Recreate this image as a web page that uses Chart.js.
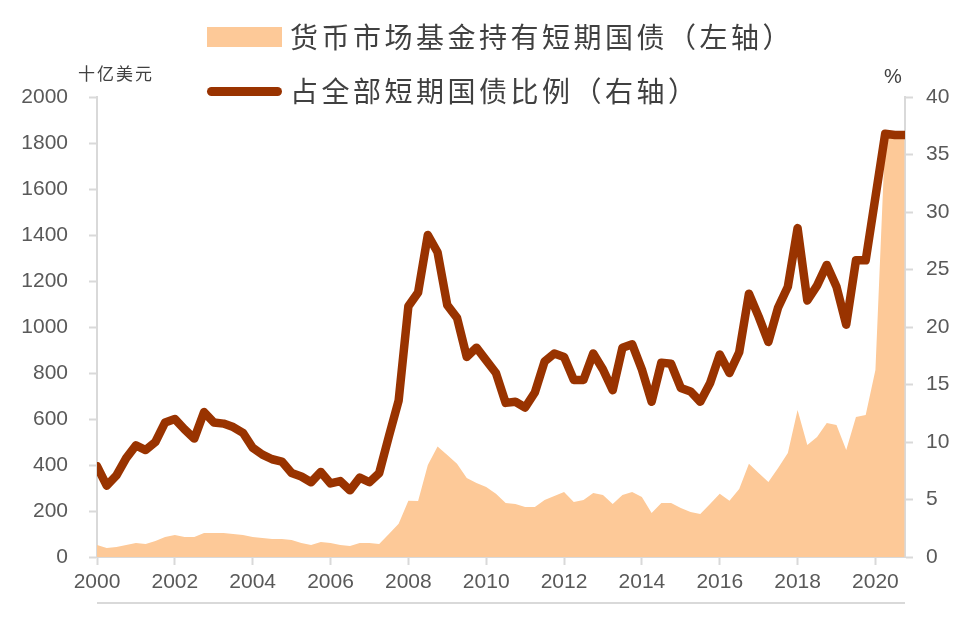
<!DOCTYPE html>
<html>
<head>
<meta charset="utf-8">
<script src="https://cdn.jsdelivr.net/npm/chart.js@4.4.1/dist/chart.umd.min.js"></script>
<style>
html,body{margin:0;padding:0;background:#fff;}
#wrap{position:relative;width:962px;height:619px;overflow:hidden;background:#fff;}
#c{position:absolute;left:0;top:0;}
.lg{position:absolute;left:290px;font-family:"Noto Sans CJK SC","Noto Sans",sans-serif;font-size:28px;letter-spacing:3.5px;color:#404040;white-space:nowrap;line-height:1;}
.sw{position:absolute;left:207px;width:75px;}
.ttl{position:absolute;color:#404040;white-space:nowrap;line-height:1;}
#botline{position:absolute;left:97px;top:602px;width:808px;height:2px;background:#d9d9d9;}
</style>
</head>
<body>
<div id="wrap">
  <canvas id="c" width="962" height="619"></canvas>
  <div class="ttl" style="left:78px;top:64px;font-family:'Noto Sans CJK SC',sans-serif;font-size:17px;letter-spacing:2px;">十亿美元</div>
  <div class="ttl" style="left:884px;top:66px;font-family:'Liberation Sans',Arial,sans-serif;font-size:20px;">%</div>
  <div id="botline"></div>
</div>
<script>
// Quarterly observations, 2000Q1 .. 2020Q4
const startYear = 2000;
const quarterCount = 84;
const yearTicks = [2000, 2002, 2004, 2006, 2008, 2010, 2012, 2014, 2016, 2018, 2020];
const leftTicks = [0, 200, 400, 600, 800, 1000, 1200, 1400, 1600, 1800, 2000];
const rightTicks = [0, 5, 10, 15, 20, 25, 30, 35, 40];

const seriesNames = ['货币市场基金持有短期国债（左轴）', '占全部短期国债比例（右轴）'];

// Money market fund holdings of T-bills, USD bn (left axis)
const mmfHoldings = [
  52, 39, 44, 52, 61, 57, 70, 87, 96, 87, 87, 104,
  104, 104, 100, 96, 87, 83, 78, 78, 74, 61, 52, 65,
  61, 52, 48, 61, 61, 57, 100, 145, 245, 243, 400, 480,
  443, 405, 343, 322, 304, 275, 235, 230, 217, 217, 248, 265,
  283, 239, 248, 278, 270, 230, 270, 283, 261, 191, 235, 235,
  213, 196, 187, 230, 275, 245, 296, 405, 365, 326, 387, 452,
  639, 487, 522, 583, 574, 465, 609, 617, 813, 1820, 1830, 1840
];

// Share of all T-bills outstanding, % (right axis)
const shareOfBills = [
  7.9, 6.2, 7.1, 8.6, 9.7, 9.3, 10.0, 11.7, 12.0, 11.1, 10.3, 12.6,
  11.7, 11.6, 11.3, 10.8, 9.5, 8.9, 8.5, 8.3, 7.3, 7.0, 6.5, 7.4,
  6.4, 6.6, 5.8, 6.9, 6.5, 7.3, 10.5, 13.6, 21.8, 23.0, 28.0, 26.5,
  21.9, 20.8, 17.4, 18.2, 17.1, 16.0, 13.4, 13.5, 13.0, 14.3, 17.0, 17.7,
  17.4, 15.4, 15.4, 17.7, 16.3, 14.5, 18.2, 18.5, 16.3, 13.5, 16.9, 16.8,
  14.7, 14.4, 13.5, 15.1, 17.6, 16.0, 17.8, 22.9, 20.9, 18.7, 21.7, 23.5,
  28.6, 22.3, 23.6, 25.4, 23.5, 20.2, 25.8, 25.8, 31.3, 36.8, 36.7, 36.7
];

const areaColor = '#FDC998';
const lineColor = '#993300';
const axisColor = '#d9d9d9';
const tickTextColor = '#595959';
const numFont = "'Liberation Sans', Arial, sans-serif";

const xs = Array.from({length: quarterCount}, (_, i) => startYear + i / 4);
const areaPts = mmfHoldings.map((v, i) => ({x: xs[i], y: v}));
const linePts = shareOfBills.map((v, i) => ({x: xs[i], y: v}));

const commonGrid = {drawOnChartArea: false, drawTicks: true, tickLength: 8, tickColor: axisColor, tickWidth: 2};
const commonBorder = {display: true, color: axisColor, width: 2};
const tickFont = {family: numFont, size: 21};

const chart = new Chart(document.getElementById('c'), {
  data: {
    datasets: [
      {
        type: 'line', label: seriesNames[1], data: linePts, yAxisID: 'y1', order: 1,
        borderColor: lineColor, borderWidth: 8.5, pointRadius: 0, tension: 0,
        borderJoinStyle: 'round', borderCapStyle: 'round', fill: false
      },
      {
        type: 'line', label: seriesNames[0], data: areaPts, yAxisID: 'y', order: 2,
        borderWidth: 0, borderColor: areaColor, backgroundColor: areaColor,
        pointRadius: 0, tension: 0, fill: 'origin'
      }
    ]
  },
  options: {
    responsive: false,
    animation: false,
    devicePixelRatio: 1,
    layout: {padding: {top: 97, left: 0, right: 0, bottom: 0}},
    plugins: {legend: {display: false}, tooltip: {enabled: false}, title: {display: false}},
    scales: {
      x: {
        type: 'linear', min: startYear, max: 2020.76,
        afterBuildTicks: s => { s.ticks = yearTicks.map(v => ({value: v})); },
        afterFit: s => { s.height = 62; },
        grid: commonGrid, border: commonBorder,
        ticks: {color: tickTextColor, font: tickFont, padding: 5, autoSkip: false, maxRotation: 0,
                callback: v => String(v)}
      },
      y: {
        type: 'linear', position: 'left', min: 0, max: 2000,
        afterBuildTicks: s => { s.ticks = leftTicks.map(v => ({value: v})); },
        afterFit: s => { s.width = 97; },
        grid: commonGrid, border: commonBorder,
        ticks: {color: tickTextColor, font: tickFont, padding: 21, callback: v => String(v)}
      },
      y1: {
        type: 'linear', position: 'right', min: 0, max: 40,
        afterBuildTicks: s => { s.ticks = rightTicks.map(v => ({value: v})); },
        afterFit: s => { s.width = 57; },
        grid: commonGrid, border: commonBorder,
        ticks: {color: tickTextColor, font: tickFont, padding: 13, callback: v => String(v)}
      }
    }
  }
});

// HTML legend built from the chart's datasets
(function buildLegend() {
  const wrap = document.getElementById('wrap');
  const items = [
    {ds: chart.data.datasets[1], cy: 37, kind: 'area'},
    {ds: chart.data.datasets[0], cy: 91, kind: 'line'}
  ];
  items.forEach(it => {
    const sw = document.createElement('div');
    sw.className = 'sw';
    if (it.kind === 'area') {
      sw.style.top = (it.cy - 10) + 'px';
      sw.style.height = '20px';
      sw.style.background = it.ds.backgroundColor;
    } else {
      sw.style.top = (it.cy - 4.5) + 'px';
      sw.style.height = '9px';
      sw.style.borderRadius = '4.5px';
      sw.style.background = it.ds.borderColor;
    }
    wrap.appendChild(sw);
    const t = document.createElement('div');
    t.className = 'lg';
    t.textContent = it.ds.label;
    t.style.top = (it.cy - 15) + 'px';
    wrap.appendChild(t);
  });
})();
</script>
</body>
</html>
